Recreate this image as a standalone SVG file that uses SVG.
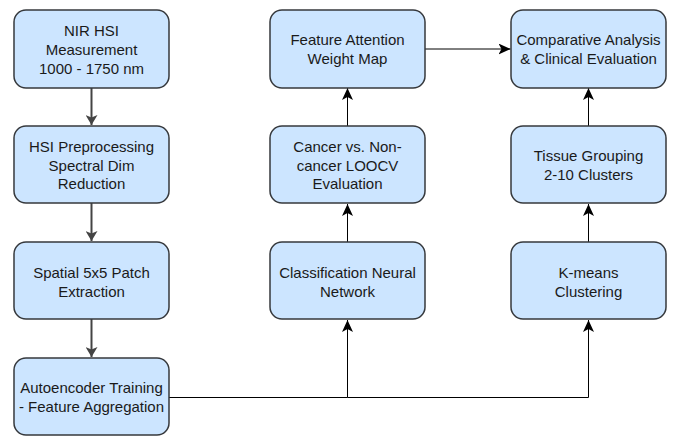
<svg xmlns="http://www.w3.org/2000/svg" width="678" height="440" viewBox="0 0 678 440">
<style>
.box{fill:#cce5ff;stroke:#36393d;stroke-width:1.5}
.t{font-family:"Liberation Sans",Arial,sans-serif;font-size:15px;fill:#1a1a1a;text-anchor:middle}
.cg{fill:none;stroke:#444444;stroke-width:2}
.cb{fill:none;stroke:#000000;stroke-width:1}
</style>
<defs>
<marker id="ag" markerUnits="userSpaceOnUse" viewBox="0 0 10 12" markerWidth="10" markerHeight="12" refX="10" refY="6" orient="auto">
<path d="M0,0 L10,6 L0,12 L2.5,6 z" fill="#444444" transform="rotate(0)"/>
</marker>
<marker id="ab" markerUnits="userSpaceOnUse" viewBox="0 0 12 11" markerWidth="12" markerHeight="11" refX="12" refY="5.5" orient="auto">
<path d="M0,0 L12,5.5 L0,11 L3,5.5 z" fill="#000000"/>
</marker>
</defs>
<rect width="678" height="440" fill="#ffffff"/>
<g id="connectors">
<path class="cg" d="M91.5,88 V125" marker-end="url(#ag)"/>
<path class="cg" d="M91.5,203 V241" marker-end="url(#ag)"/>
<path class="cg" d="M91.5,319 V357" marker-end="url(#ag)"/>
<path class="cb" d="M169,397.5 H347.5 V320" marker-end="url(#ab)"/>
<path class="cb" d="M347.5,397.5 H588.5 V320" marker-end="url(#ab)"/>
<path class="cb" d="M347.5,242 V204" marker-end="url(#ab)"/>
<path class="cb" d="M347.5,126 V88" marker-end="url(#ab)"/>
<path class="cb" d="M588.5,242 V204" marker-end="url(#ab)"/>
<path class="cb" d="M588.5,126 V88" marker-end="url(#ab)"/>
<path class="cb" d="M425,49 H510.5" marker-end="url(#ab)"/>
</g>
<g id="n1"><rect class="box" x="14" y="10" width="155" height="78" rx="12"/>
<text class="t" x="91.5" y="35.5">NIR HSI</text><text class="t" x="91.5" y="54.5">Measurement</text><text class="t" x="91.5" y="73.5">1000 - 1750 nm</text></g>
<g id="n2"><rect class="box" x="14" y="126" width="155" height="77" rx="12"/>
<text class="t" x="91.5" y="152">HSI Preprocessing</text><text class="t" x="91.5" y="171">Spectral Dim</text><text class="t" x="91.5" y="189">Reduction</text></g>
<g id="n3"><rect class="box" x="14" y="242" width="155" height="77" rx="12"/>
<text class="t" x="91.5" y="277.5">Spatial 5x5 Patch</text><text class="t" x="91.5" y="296.5">Extraction</text></g>
<g id="n4"><rect class="box" x="14" y="358" width="155" height="77" rx="12"/>
<text class="t" x="91.5" y="393">Autoencoder Training</text><text class="t" x="91.5" y="412">- Feature Aggregation</text></g>
<g id="n5"><rect class="box" x="270" y="10" width="155" height="78" rx="12"/>
<text class="t" x="347.5" y="44.5">Feature Attention</text><text class="t" x="347.5" y="64">Weight Map</text></g>
<g id="n6"><rect class="box" x="270" y="126" width="155" height="77" rx="12"/>
<text class="t" x="347.5" y="152">Cancer vs. Non-</text><text class="t" x="347.5" y="171">cancer LOOCV</text><text class="t" x="347.5" y="189">Evaluation</text></g>
<g id="n7"><rect class="box" x="270" y="242" width="155" height="77" rx="12"/>
<text class="t" x="347.5" y="277.5">Classification Neural</text><text class="t" x="347.5" y="296.5">Network</text></g>
<g id="n8"><rect class="box" x="511" y="10" width="155" height="78" rx="12"/>
<text class="t" x="588.5" y="44.5">Comparative Analysis</text><text class="t" x="588.5" y="64">&amp; Clinical Evaluation</text></g>
<g id="n9"><rect class="box" x="511" y="126" width="155" height="77" rx="12"/>
<text class="t" x="588.5" y="160.5">Tissue Grouping</text><text class="t" x="588.5" y="180">2-10 Clusters</text></g>
<g id="n10"><rect class="box" x="511" y="242" width="155" height="77" rx="12"/>
<text class="t" x="588.5" y="277.5">K-means</text><text class="t" x="588.5" y="296.5">Clustering</text></g>
</svg>
